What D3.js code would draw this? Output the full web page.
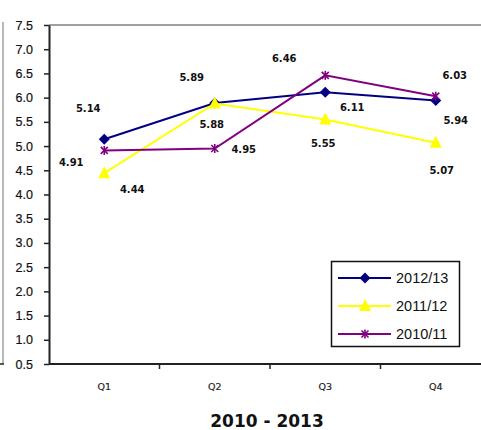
<!DOCTYPE html>
<html>
<head>
<meta charset="utf-8">
<script src="https://cdn.jsdelivr.net/npm/d3@7"></script>
<style>
  html, body { margin: 0; padding: 0; background: #fff; }
  svg { display: block; }
</style>
</head>
<body>
<svg id="chart" width="481" height="430"></svg>
<script>
// Quarterly values per financial year
const quarters = ["Q1", "Q2", "Q3", "Q4"];
const seriesNames = ["2012/13", "2011/12", "2010/11"];
const values2012_13 = [5.14, 5.89, 6.11, 5.94];
const values2011_12 = [4.44, 5.88, 5.55, 5.07];
const values2010_11 = [4.91, 4.95, 6.46, 6.03];
const yTicks = [0.5, 1.0, 1.5, 2.0, 2.5, 3.0, 3.5, 4.0, 4.5, 5.0, 5.5, 6.0, 6.5, 7.0, 7.5];
const chartTitle = "2010 - 2013";

// Styling and label placement (pixel offsets of each value label from its point)
const seriesColors = ["#000080", "#FFFF00", "#800080"];
const seriesMarkers = ["diamond", "triangle", "star"];
const labelOffsets = [
  [[-16, -31], [-23, -26], [27, 15], [20, 20]],
  [[28, 16], [-3, 21], [-2, 24], [6, 28]],
  [[-33, 12], [29, 1], [-41, -17], [19, -21]]
];

const series = [
  { name: seriesNames[0], values: values2012_13 },
  { name: seriesNames[1], values: values2011_12 },
  { name: seriesNames[2], values: values2010_11 }
];

const svg = d3.select("#chart");
const plot = { left: 49, top: 25, right: 491, bottom: 364 };

const x = d3.scaleBand().domain(quarters).range([plot.left, plot.right]);
const y = d3.scaleLinear().domain([0.5, 7.5]).range([plot.bottom, plot.top]);
const cx = q => x(q) + x.bandwidth() / 2;

// outer frame fragment on the far left
svg.append("line").attr("x1", 3).attr("x2", 3).attr("y1", 22).attr("y2", 364)
  .attr("stroke", "#a0a0a0").attr("stroke-width", 1.5);
svg.append("line").attr("x1", 0).attr("x2", 4).attr("y1", 364).attr("y2", 364)
  .attr("stroke", "#222").attr("stroke-width", 1.5);

// plot area top border
svg.append("line").attr("x1", plot.left).attr("x2", 481).attr("y1", plot.top).attr("y2", plot.top)
  .attr("stroke", "#a0a0a0").attr("stroke-width", 2);

// y axis
const yAxis = svg.append("g").attr("transform", `translate(${plot.left},0)`)
  .call(d3.axisLeft(y).tickValues(yTicks).tickFormat(d3.format(".1f")).tickSize(5).tickSizeOuter(0));
yAxis.select(".domain").attr("stroke", "#222").attr("stroke-width", 2);
yAxis.selectAll(".tick line").attr("stroke", "#222").attr("stroke-width", 1.5);
yAxis.selectAll(".tick text")
  .attr("x", -16).attr("font-family", "Liberation Sans, Arial, sans-serif")
  .attr("font-size", 12.5).attr("fill", "#111").attr("stroke", "#111").attr("stroke-width", 0.2);

// x axis with ticks on category boundaries
const xAxisG = svg.append("g").attr("transform", `translate(0,${plot.bottom})`);
xAxisG.append("line").attr("x1", plot.left).attr("x2", 481)
  .attr("stroke", "#222").attr("stroke-width", 2);
xAxisG.selectAll("line.tk").data(quarters.slice(1)).join("line").attr("class", "tk")
  .attr("x1", d => x(d)).attr("x2", d => x(d)).attr("y1", 0).attr("y2", 5)
  .attr("stroke", "#222").attr("stroke-width", 1.5);
xAxisG.selectAll("text").data(quarters).join("text")
  .attr("x", d => cx(d)).attr("y", 26).attr("text-anchor", "middle")
  .attr("font-family", "DejaVu Sans, Verdana, sans-serif").attr("font-size", 9.5)
  .attr("fill", "#222").attr("stroke", "#222").attr("stroke-width", 0.2).text(d => d);

// marker shapes
function drawMarker(g, kind, color, px, py) {
  if (kind === "star") {
    const s = 3.5;
    const m = g.append("g").attr("transform", `translate(${px},${py})`)
      .attr("stroke", color).attr("stroke-width", 1.6);
    m.append("line").attr("x1", -s).attr("x2", s).attr("y1", -s).attr("y2", s);
    m.append("line").attr("x1", -s).attr("x2", s).attr("y1", s).attr("y2", -s);
    m.append("line").attr("x1", 0).attr("x2", 0).attr("y1", -s - 1).attr("y2", s + 1);
  } else if (kind === "diamond") {
    const r = 5.5;
    g.append("path").attr("d", `M0,${-r}L${r},0L0,${r}L${-r},0Z`)
      .attr("transform", `translate(${px},${py})`).attr("fill", color);
  } else {
    g.append("path").attr("d", "M0,-7L6,5L-6,5Z")
      .attr("transform", `translate(${px},${py})`).attr("fill", color);
  }
}

const line = d3.line().x((d, i) => cx(quarters[i])).y(d => y(d));

series.forEach((s, si) => {
  const g = svg.append("g");
  g.append("path").datum(s.values).attr("d", line)
    .attr("fill", "none").attr("stroke", seriesColors[si]).attr("stroke-width", 2);
  s.values.forEach((v, i) => drawMarker(g, seriesMarkers[si], seriesColors[si], cx(quarters[i]), y(v)));
});

// value labels
series.forEach((s, si) => {
  s.values.forEach((v, i) => {
    const [dx, dy] = labelOffsets[si][i];
    svg.append("text")
      .attr("x", cx(quarters[i]) + dx).attr("y", y(v) + dy)
      .attr("dy", "0.36em").attr("text-anchor", "middle")
      .attr("font-family", "DejaVu Sans, Verdana, sans-serif")
      .attr("font-weight", "bold").attr("font-size", 10).attr("fill", "#111")
      .text(v.toFixed(2));
  });
});

// legend
const legend = svg.append("g");
legend.append("rect").attr("x", 331.5).attr("y", 261.5).attr("width", 128).attr("height", 85)
  .attr("fill", "#fff").attr("stroke", "#111").attr("stroke-width", 1.5);
series.forEach((s, si) => {
  const ly = 278 + si * 28;
  legend.append("line").attr("x1", 338).attr("x2", 391).attr("y1", ly).attr("y2", ly)
    .attr("stroke", seriesColors[si]).attr("stroke-width", 2);
  drawMarker(legend, seriesMarkers[si], seriesColors[si], 365, ly);
  legend.append("text").attr("x", 396).attr("y", ly).attr("dy", "0.36em")
    .attr("font-family", "Liberation Sans, Arial, sans-serif").attr("font-size", 14.5)
    .attr("fill", "#111").text(s.name);
});

// title
svg.append("text").attr("x", 267).attr("y", 427).attr("text-anchor", "middle")
  .attr("font-family", "DejaVu Sans, Verdana, sans-serif").attr("font-weight", "bold")
  .attr("font-size", 17).attr("fill", "#111").text(chartTitle);
</script>
</body>
</html>
